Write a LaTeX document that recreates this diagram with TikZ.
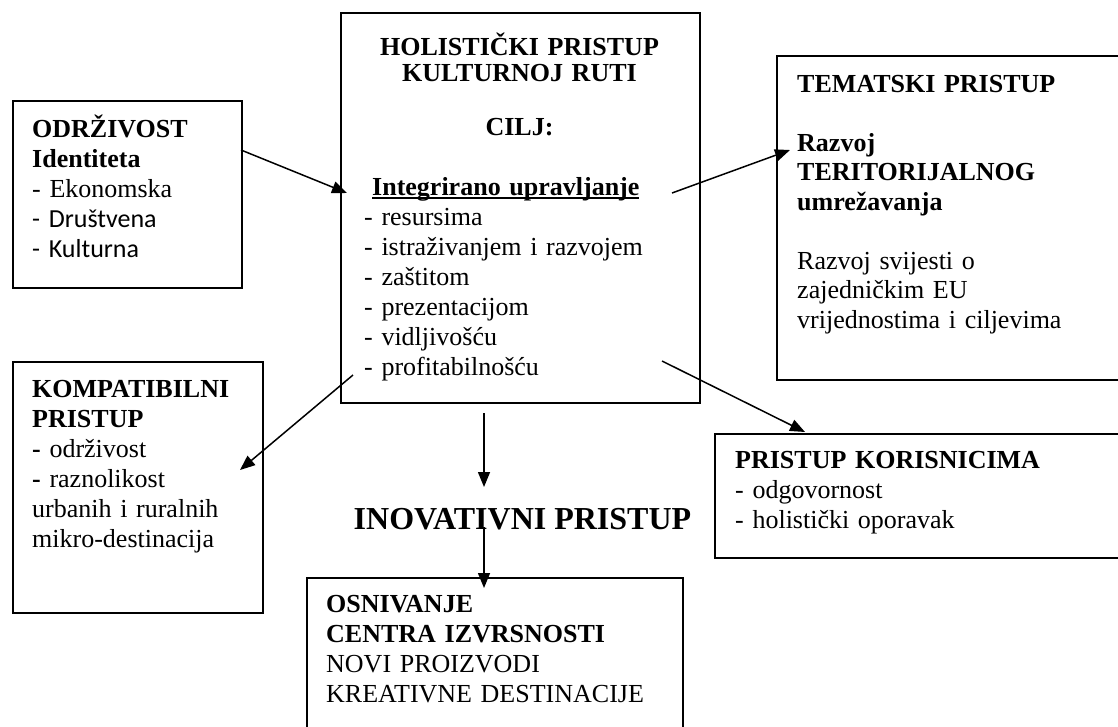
\documentclass[tikz,border=0pt]{standalone}
\usepackage{fontspec}
\setmainfont{Liberation Serif}
\newfontfamily\calfont{Carlito}
\usetikzlibrary{arrows.meta}
\newcommand\myul[1]{\setbox0=\hbox{#1}\leavevmode\rlap{\rule[-4pt]{\wd0}{1.6pt}}\box0}
\begin{document}
\begin{tikzpicture}[x=1pt,y=-1pt,
  box/.style={draw, line width=1.6pt, inner sep=0pt, anchor=north west},
  txt/.style={anchor=base west, align=left, inner sep=0pt, text width=#1,
              font=\fontsize{26}{30}\selectfont},
  txt/.default=380pt,
  arr/.style={line width=1.5pt, -{Triangle[length=15pt,width=12pt]}}]
\clip (0,0) rectangle (1118,726);
\fill[white] (0,0) rectangle (1118,726);
% boxes
\node[box, minimum width=229pt, minimum height=187pt] (odr) at (12,100) {};
\node[box, minimum width=359pt, minimum height=390pt] (hol) at (340,12) {};
\node[box, minimum width=420pt, minimum height=324pt] (tem) at (776,55) {};
\node[box, minimum width=250pt, minimum height=251pt] (kom) at (12,361) {};
\node[box, minimum width=450pt, minimum height=124pt] (kor) at (714,433) {};
\node[box, minimum width=376pt, minimum height=220pt] (osn) at (306,577) {};
% texts
\node[txt=210pt] (odrtxt) at (32,137) {\textbf{ODRŽIVOST}\\\textbf{Identiteta}\\- Ekonomska\\{\calfont - Društvena}\\{\calfont - Kulturna}};
\node[txt=340pt, align=center, anchor=base, font=\fontsize{26}{26.7}\selectfont] (holtitle) at (519.5,55) {\textbf{HOLISTIČKI PRISTUP}\\\textbf{KULTURNOJ RUTI}};
\node[anchor=base, inner sep=0pt, font=\fontsize{26}{30}\selectfont\bfseries] (cilj) at (519.5,135) {CILJ:};
\node[txt=330pt] (holtxt) at (364,195) {\hspace*{8pt}\textbf{\myul{Integrirano upravljanje}}\\- resursima\\- istraživanjem i razvojem\\- zaštitom\\- prezentacijom\\- vidljivošću\\- profitabilnošću};
\node[txt=310pt, font=\fontsize{26}{29.5}\selectfont] (temtxt) at (797,92) {\textbf{TEMATSKI PRISTUP}\\[29.5pt]\textbf{Razvoj}\\\textbf{TERITORIJALNOG}\\\textbf{umrežavanja}\\[29.5pt]Razvoj svijesti o\\zajedničkim EU\\vrijednostima i ciljevima};
\node[txt=225pt] (komtxt) at (32,397) {\textbf{KOMPATIBILNI}\\\textbf{PRISTUP}\\\textbf{-} održivost\\\textbf{-} raznolikost\\urbanih i ruralnih\\mikro-destinacija};
\node[txt=380pt] (kortxt) at (735,468) {\textbf{PRISTUP KORISNICIMA}\\- odgovornost\\- holistički oporavak};
\node[txt=350pt] (osntxt) at (326,612) {\textbf{OSNIVANJE}\\\textbf{CENTRA IZVRSNOSTI}\\NOVI PROIZVODI\\KREATIVNE DESTINACIJE};
\node[anchor=base, inner sep=0pt, font=\fontsize{32}{36}\selectfont\bfseries] (inov) at (522.5,529) {INOVATIVNI PRISTUP};
% connector end points
\coordinate (a1s) at (241,150); \coordinate (a1e) at (347,193);
\coordinate (a2s) at (672,193); \coordinate (a2e) at (790,150);
\coordinate (a3s) at (353,375); \coordinate (a3e) at (240,470);
\coordinate (a4s) at (662,361); \coordinate (a4e) at (805,432);
\coordinate (a5s) at (484,413); \coordinate (a5e) at (484,487);
\coordinate (a6s) at (484,527); \coordinate (a6e) at (484,588);
\draw[arr] (a1s) -- (a1e);
\draw[arr] (a2s) -- (a2e);
\draw[arr] (a3s) -- (a3e);
\draw[arr] (a4s) -- (a4e);
\draw[arr] (a5s) -- (a5e);
\draw[arr] (a6s) -- (a6e);
\end{tikzpicture}
\end{document}
